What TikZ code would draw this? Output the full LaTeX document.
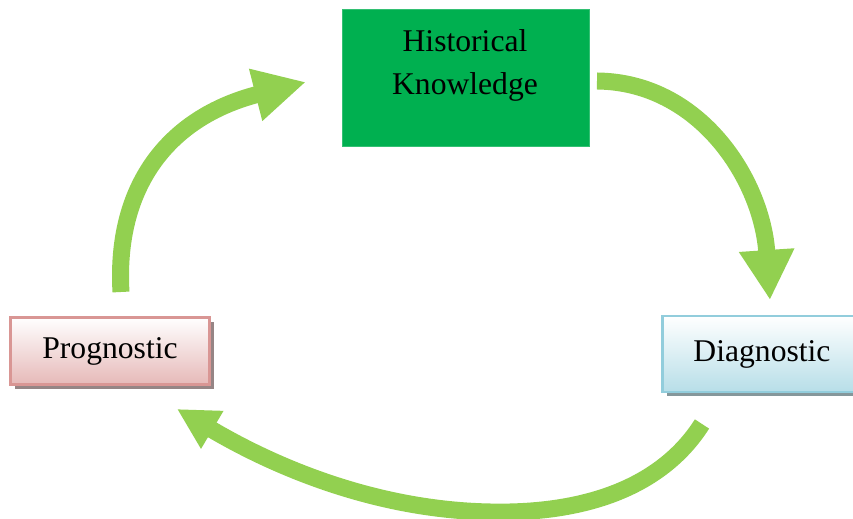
\documentclass[tikz,border=0pt]{standalone}
\usepackage{fontspec}
\setmainfont{Liberation Serif}
\usetikzlibrary{arrows.meta,shadows}
\definecolor{cyclegreen}{HTML}{92D050}
\definecolor{histgreen}{HTML}{00B050}
\definecolor{progline}{HTML}{D99694}
\definecolor{progfill}{HTML}{E6B9B8}
\definecolor{diagline}{HTML}{92CDDC}
\definecolor{diagfill}{HTML}{B7DEE8}
\tikzset{
  stagetext/.style={font=\fontsize{18}{24.5}\selectfont, text=black},
  stagebox/.style={rectangle, draw, line width=1.2pt, stagetext,
    drop shadow={shadow xshift=0.09cm, shadow yshift=-0.09cm, opacity=1, fill=#1}},
  cyclearrow/.style={draw=cyclegreen, line width=0.34cm}
}
\begin{document}
\begin{tikzpicture}[x=0.02cm, y=-0.02cm]
		\useasboundingbox (0,0) rectangle (853,519);
		% the three stages
		\node[rectangle, fill=histgreen, draw=histgreen!80!white, minimum width=4.94cm, minimum height=2.74cm] (hist) at (465.5,78) {};
		\node[stagetext, align=center] (histtext) at (465,65) {Historical\\Knowledge};
		\node[stagebox=gray!75!progline, draw=progline, top color=white, bottom color=progfill, minimum width=3.98cm, minimum height=1.34cm] (prog) at (110,351) {Prognostic};
		\node[stagebox=gray!70!diagline, draw=diagline, top color=white, bottom color=diagfill, minimum width=3.98cm, minimum height=1.52cm] (diag) at (762,354) {Diagnostic};
		% the cycle
		\coordinate (progout) at (121,292);
		\coordinate (histin) at (306,82);
		\coordinate (histout) at (597,81);
		\coordinate (diagin) at (770,300);
		\coordinate (diagout) at (702,424);
		\coordinate (progin) at (177,409);
		\draw[cyclearrow, -{Triangle[width=1.0cm,length=1.04cm]}] (progout) .. controls (115,190) and (165,118) .. (histin);
		\draw[cyclearrow, -{Triangle[width=1.04cm,length=1.0cm]}] (histout) .. controls (700,82) and (762,180) .. (diagin);
		\draw[cyclearrow, -{Triangle[width=0.82cm,length=0.82cm]}] (diagout) .. controls (660,490) and (580,514) .. (490,512) .. controls (380,510) and (280,470) .. (progin);
		\end{tikzpicture}
\end{document}
